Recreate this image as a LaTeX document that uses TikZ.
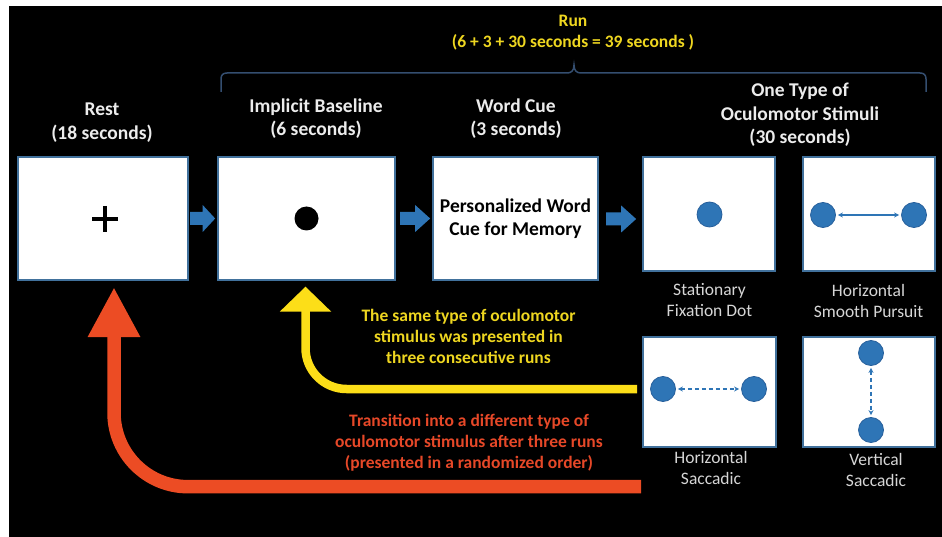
\documentclass[tikz,border=0pt]{standalone}
\usepackage{fontspec}
\setmainfont{Carlito}
\usetikzlibrary{arrows.meta}
\definecolor{boxline}{RGB}{65,113,156}
\definecolor{dotblue}{RGB}{46,117,182}
\definecolor{dotline}{RGB}{40,96,156}
\definecolor{arrblue}{RGB}{46,117,182}
\definecolor{yarrow}{RGB}{252,222,24}
\definecolor{ytext}{RGB}{238,214,32}
\definecolor{rarrow}{RGB}{236,76,36}
\definecolor{rtext}{RGB}{230,72,40}
\definecolor{bracketc}{RGB}{52,78,112}
\definecolor{headc}{RGB}{236,236,236}
\definecolor{labelc}{RGB}{214,214,214}
\begin{document}
\begin{tikzpicture}[x=1pt,y=-1pt,
  scr/.style={draw=boxline, line width=1.3pt, fill=white, inner sep=0pt},
  heading/.style={text=headc, align=center, font=\bfseries\fontsize{19.5}{23.5}\selectfont, inner sep=0pt},
  lbltext/.style={text=labelc, align=center, font=\fontsize{17.5}{21}\selectfont, inner sep=0pt},
  note/.style={align=center, font=\bfseries\fontsize{17.5}{21}\selectfont, inner sep=0pt},
  stimdot/.style={circle, fill=dotblue, draw=dotline, line width=0.8pt, minimum size=25pt, inner sep=0pt},
  pics/blockarr/.style={code={\fill[arrblue] (0,-6.5) -- ({#1/2},-6.5) -- ({#1/2},-13.5) -- (#1,0) -- ({#1/2},13.5) -- ({#1/2},6.5) -- (0,6.5) -- cycle;}},
  stimarr/.style={draw=dotblue, line width=1.2pt, {Stealth[length=5pt,width=5pt]}-{Stealth[length=5pt,width=5pt]}, shorten <=2pt, shorten >=2pt}
]
\useasboundingbox (0,0) rectangle (942,537);
\fill[white] (0,0) rectangle (942,537);
\fill[black] (9,6) rectangle (942,537);

% screens
\node[scr, minimum width=170pt, minimum height=123pt] (rest) at (103,218.5) {};
\node[scr, minimum width=177pt, minimum height=123pt] (base) at (306.5,218.5) {};
\node[scr, minimum width=165pt, minimum height=123pt, font=\bfseries\fontsize{19.5}{23.5}\selectfont, align=center] (word) at (515.5,218.5) {Personalized Word\\Cue for Memory};
\node[scr, minimum width=132pt, minimum height=114pt] (stat) at (709,214) {};
\node[scr, minimum width=132pt, minimum height=114pt] (smooth) at (869,214) {};
\node[scr, minimum width=133pt, minimum height=110pt] (hsacc) at (709.5,392) {};
\node[scr, minimum width=132pt, minimum height=110pt] (vsacc) at (869,392) {};

% screen contents
\draw[line width=3.6pt] (92,219) -- (118,219) (105,206) -- (105,232);
\node[circle, fill=black, minimum size=24pt, inner sep=0pt] (bdot) at (base.center) {};
\node[stimdot] (sdot) at (709.5,214.5) {};
\node[stimdot] (sp1) at (823,215) {};
\node[stimdot] (sp2) at (914,215) {};
\node[stimdot] (hs1) at (663,389) {};
\node[stimdot] (hs2) at (754,389) {};
\node[stimdot] (vs1) at (871,353) {};
\node[stimdot] (vs2) at (871,430) {};
\draw[stimarr] (sp1) -- (sp2);
\draw[stimarr, dash pattern=on 4pt off 3pt] (hs1) -- (hs2);
\draw[stimarr, dash pattern=on 4pt off 3pt] (vs1) -- (vs2);

% block arrows
\pic at ([xshift=1.5pt]rest.east |- 0,218.5) {blockarr=25};
\pic at ([xshift=4.5pt]base.east |- 0,218.5) {blockarr=30};
\pic at ([xshift=7.5pt]word.east |- 0,219) {blockarr=30};

% headings
\node[heading] (restt) at (102,122.5) {Rest\\(18 seconds)};
\node[heading] (baset) at (316,118.5) {Implicit Baseline\\(6 seconds)};
\node[heading] (wordt) at (516,118.5) {Word Cue\\(3 seconds)};
\node[heading] (stimt) at (800,115) {One Type of\\Oculomotor Stimuli\\(30 seconds)};
\node[note, text=ytext] (run) at (573,32.5) {Run\\(6 + 3 + 30 seconds = 39 seconds )};

% bracket
\draw[bracketc, line width=1.5pt] (221,92) -- (221,79) .. controls (221,75) and (223,73) .. (227,73) -- (567,73) .. controls (571,73) and (574,71) .. (574,65) .. controls (574,71) and (577,73) .. (581,73) -- (920,73) .. controls (924,73) and (926,75) .. (926,79) -- (926,92);

% labels
\node[lbltext] (statl) at (709.5,300.5) {Stationary\\Fixation Dot};
\node[lbltext] (smoothl) at (868.5,300.5) {Horizontal\\Smooth Pursuit};
\node[lbltext] (hsaccl) at (711,468) {Horizontal\\Saccadic};
\node[lbltext] (vsaccl) at (876,470) {Vertical\\Saccadic};

% notes
\node[note, text=ytext] (ynote) at (468.5,336) {The same type of oculomotor\\stimulus was presented in\\three consecutive runs};
\node[note, text=rtext] (rnote) at (469,442.5) {Transition into a different type of\\oculomotor stimulus after three runs\\(presented in a randomized order)};

% loop arrows
\coordinate (ystart) at (637,389);
\coordinate (rstart) at (641,486.7);
\draw[yarrow, line width=8.5pt, rounded corners=41pt, -{Triangle[length=25pt,width=50pt]}] (ystart) -| ([xshift=-1pt,yshift=-6pt]base.south);
\draw[rarrow, line width=13.5pt, rounded corners=74pt, -{Triangle[length=50pt,width=49pt]}] (rstart) -| ([xshift=11pt,yshift=-6.5pt]rest.south);
\end{tikzpicture}
\end{document}
